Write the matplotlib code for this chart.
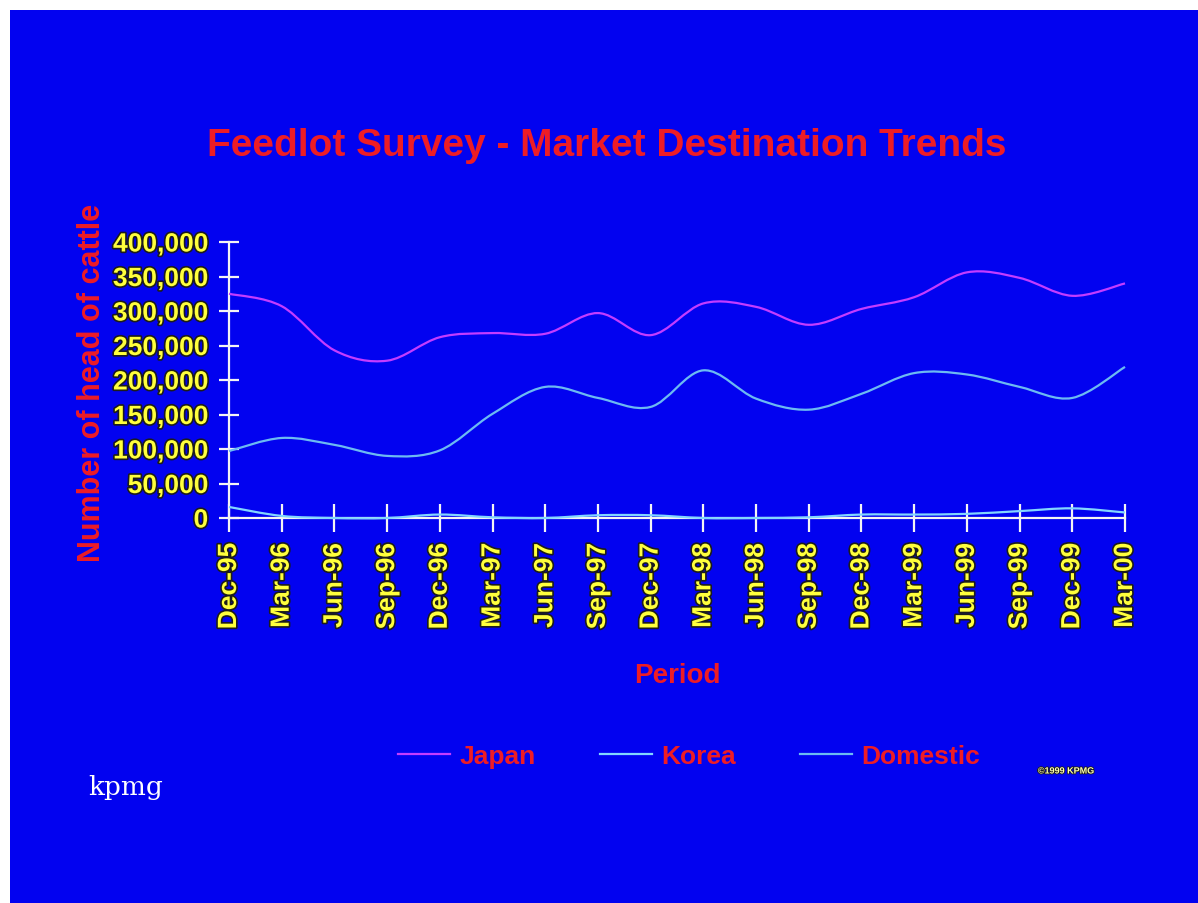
import numpy as np
import matplotlib
matplotlib.use("Agg")
import matplotlib.pyplot as plt
import matplotlib.patheffects as pe
from matplotlib.path import Path
from matplotlib.patches import PathPatch, Rectangle
from matplotlib.lines import Line2D

# ---------------- data ----------------
periods = ["Dec-95", "Mar-96", "Jun-96", "Sep-96", "Dec-96", "Mar-97", "Jun-97",
           "Sep-97", "Dec-97", "Mar-98", "Jun-98", "Sep-98", "Dec-98", "Mar-99",
           "Jun-99", "Sep-99", "Dec-99", "Mar-00"]
japan = [325000, 307000, 243000, 228000, 262000, 268000, 267000, 297000, 265000,
         311000, 306000, 280000, 303000, 320000, 356000, 348000, 322000, 340000]
korea = [16000, 3000, 0, 0, 5000, 1000, 0, 4000, 4000, 0, 0, 1000, 5000, 5000,
         6000, 10000, 14000, 8000]
domestic = [97000, 116000, 106000, 90000, 98000, 151000, 190000, 174000, 161000,
            214000, 173000, 157000, 180000, 210000, 208000, 190000, 174000, 219000]
series_names = ["Japan", "Korea", "Domestic"]
y_ticks = [0, 50000, 100000, 150000, 200000, 250000, 300000, 350000, 400000]
y_tick_labels = ["0", "50,000", "100,000", "150,000", "200,000", "250,000",
                 "300,000", "350,000", "400,000"]

# ---------------- style ----------------
W, H = 1198, 904
BLUE = "#0202f0"
RED = "#ee1c25"
YELLOW = "#ffff3c"
WHITE = "#f4f4f4"
colors = {"Japan": "#c43cff", "Korea": "#82d6ff", "Domestic": "#6cbaf2"}
FONT = "Liberation Sans"

fig = plt.figure(figsize=(W / 100, H / 100), dpi=100)
fig.patch.set_facecolor("white")
fig.patches.append(Rectangle((10 / W, 0), 1, (H - 11) / H, transform=fig.transFigure,
                             facecolor=BLUE, edgecolor="none", zorder=-5))

x0, x1 = 229, 1125
y0, y1 = 519, 243
ax = fig.add_axes([x0 / W, (H - y0) / H, (x1 - x0) / W, (y0 - y1) / H])
ax.set_facecolor("none")
ax.set_xlim(0, len(periods) - 1)
ax.set_ylim(0, 400000)

for s in ["top", "right"]:
    ax.spines[s].set_visible(False)
for s in ["left", "bottom"]:
    ax.spines[s].set_color(WHITE)
    ax.spines[s].set_linewidth(1.6)

outline = [pe.withStroke(linewidth=2.4, foreground="#1c1c1c")]

ax.set_yticks(y_ticks)
ax.set_yticklabels(y_tick_labels)
ax.set_xticks(range(len(periods)))
ax.set_xticklabels(periods, rotation=90)
ax.tick_params(axis="y", direction="inout", length=14, width=1.6, color=WHITE, pad=8)
ax.tick_params(axis="x", direction="inout", length=20, width=1.6, color=WHITE, pad=8)
for lab in ax.get_yticklabels() + ax.get_xticklabels():
    lab.set_fontfamily(FONT)
    lab.set_fontweight("bold")
    lab.set_fontsize(19)
    lab.set_color(YELLOW)
    lab.set_path_effects(outline)


def smooth_path(xs, ys):
    xs = np.asarray(xs, float)
    ys = np.asarray(ys, float)
    pts = np.column_stack([xs, ys])
    n = len(pts)
    verts = [pts[0]]
    codes = [Path.MOVETO]
    for i in range(n - 1):
        p0 = pts[i - 1] if i > 0 else pts[i]
        p1 = pts[i]
        p2 = pts[i + 1]
        p3 = pts[i + 2] if i + 2 < n else pts[i + 1]
        c1 = p1 + (p2 - p0) / 6.0
        c2 = p2 - (p3 - p1) / 6.0
        verts += [c1, c2, p2]
        codes += [Path.CURVE4] * 3
    return Path(verts, codes)


xs = np.arange(len(periods))
data = {"Japan": japan, "Korea": korea, "Domestic": domestic}
for name in ["Domestic", "Korea", "Japan"]:
    patch = PathPatch(smooth_path(xs, data[name]), fill=False,
                      edgecolor=colors[name], linewidth=1.6, zorder=3,
                      clip_on=False)
    ax.add_patch(patch)

# titles / labels
fig.text(607 / W, 1 - 146 / H, "Feedlot Survey - Market Destination Trends",
         ha="center", va="center", color=RED, fontsize=28, fontweight="bold",
         family=FONT)
fig.text(92 / W, 1 - 383 / H, "Number of head of cattle", rotation=90,
         ha="center", va="center", color=RED, fontsize=22, fontweight="bold",
         family=FONT)
fig.text(677 / W, 1 - 676 / H, "Period", ha="center", va="center", color=RED,
         fontsize=20, fontweight="bold", family=FONT)

handles = [Line2D([], [], color=colors[n], linewidth=1.6) for n in series_names]
leg = fig.legend(handles, series_names, loc="center",
                 bbox_to_anchor=(689 / W, 1 - 757 / H), ncol=3, frameon=False,
                 handlelength=1.95, handletextpad=0.35, columnspacing=2.45,
                 prop={"family": FONT, "weight": "bold", "size": 19},
                 labelcolor=RED)

fig.text(88 / W, 1 - 788 / H, "kpmg", ha="left", va="center", color="white",
         fontsize=19, family="DejaVu Serif")
fig.text(1066 / W, 1 - 772 / H, "\u00a91999 KPMG", ha="center", va="center",
         color="#ffffb0", fontsize=6.5, fontweight="bold", family=FONT,
         path_effects=[pe.withStroke(linewidth=1.2, foreground="#1c1c1c")])

fig.savefig("out.png", dpi=100, facecolor=fig.get_facecolor())
